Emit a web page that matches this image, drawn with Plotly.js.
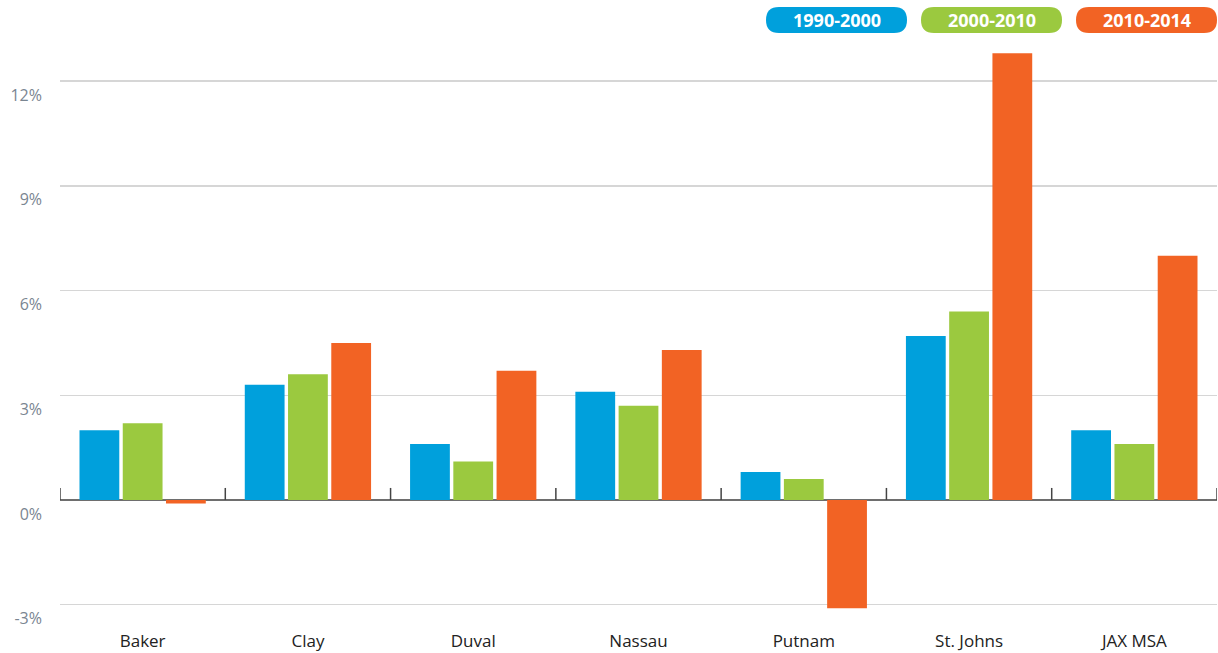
<!DOCTYPE html>
<html>
<head>
<meta charset="utf-8">
<script src="https://cdn.plot.ly/plotly-3.0.1.min.js"></script>
<style>html,body{margin:0;padding:0;background:#fff}#chart{width:1218px;height:653px}</style>
</head>
<body>
<div id="chart"></div>
<script>
const categories = ["Baker", "Clay", "Duval", "Nassau", "Putnam", "St. Johns", "JAX MSA"];
const seriesNames = ["1990-2000", "2000-2010", "2010-2014"];
const growth1990_2000 = [2.0, 3.3, 1.6, 3.1, 0.8, 4.7, 2.0];
const growth2000_2010 = [2.2, 3.6, 1.1, 2.7, 0.6, 5.4, 1.6];
const growth2010_2014 = [-0.1, 4.5, 3.7, 4.3, -3.1, 12.8, 7.0];
const yTickVals = [-3, 0, 3, 6, 9, 12];
const yTickText = ["-3%", "0%", "3%", "6%", "9%", "12%"];
const colors = ["#00a0dc", "#9bc93f", "#f26324"];

const W = 1218, H = 653;
const margin = {l: 60, r: 1, t: 40, b: 33};
const yRange = [-3.44, 13.18];
const xRange = [-0.5, categories.length - 0.5];

const series = [growth1990_2000, growth2000_2010, growth2010_2014];
const traces = series.map((vals, i) => ({
  type: "bar", x: categories, y: vals, name: seriesNames[i],
  marker: {color: colors[i]}, showlegend: false, hoverinfo: "x+y"
}));

const shapes = [], annotations = [];
// category boundary ticks on the zero line
for (let i = 0; i <= categories.length; i++) {
  shapes.push({type: "line", xref: "x", yref: "y", ysizemode: "pixel", yanchor: 0,
    x0: i - 0.5, x1: i - 0.5, y0: 0, y1: 12, line: {color: "#444444", width: 1.5}, layer: "above"});
}

// legend pills (pixel sized, anchored at top-right of plot area)
const pillW = 141, pillH = 26, pillGap = 14, r = 13;
seriesNames.forEach((name, i) => {
  const x1 = -(2 - i) * (pillW + pillGap);
  const x0 = x1 - pillW;
  const y0 = 7, y1 = y0 + pillH;
  const path = `M ${x0 + r},${y0} L ${x1 - r},${y0} Q ${x1},${y0} ${x1},${y0 + r} L ${x1},${y1 - r} Q ${x1},${y1} ${x1 - r},${y1} L ${x0 + r},${y1} Q ${x0},${y1} ${x0},${y1 - r} L ${x0},${y0 + r} Q ${x0},${y0} ${x0 + r},${y0} Z`;
  shapes.push({type: "path", xref: "paper", yref: "paper", xsizemode: "pixel", ysizemode: "pixel",
    xanchor: 1, yanchor: 1, path: path, fillcolor: colors[i], line: {width: 0}});
  annotations.push({xref: "paper", yref: "paper", x: 1, y: 1, xshift: (x0 + x1) / 2, yshift: (y0 + y1) / 2,
    text: "<b>" + name + "</b>", showarrow: false, xanchor: "center", yanchor: "middle",
    font: {family: "Open Sans, sans-serif", size: 18, color: "#ffffff"}});
});

const layout = {
  width: W, height: H, margin: margin,
  paper_bgcolor: "#ffffff", plot_bgcolor: "#ffffff",
  barmode: "group", bargap: 0.215, bargroupgap: 0.08,
  font: {family: "Open Sans, sans-serif"},
  xaxis: {type: "category", range: xRange, showgrid: false, zeroline: false, showline: false, ticks: "",
    tickfont: {size: 17, color: "#222222"}, ticklabelstandoff: 9, fixedrange: true},
  yaxis: {range: yRange, tickvals: yTickVals, ticktext: yTickText, showgrid: true, gridcolor: "#d6d6d6", gridwidth: 1.5,
    zeroline: true, zerolinecolor: "#6e6e6e", zerolinewidth: 2.5, showline: false, ticks: "",
    tickfont: {size: 16, color: "#7a8591"}, ticklabelshift: 14, ticklabelstandoff: 17, fixedrange: true},
  shapes: shapes, annotations: annotations, showlegend: false
};

Plotly.newPlot("chart", traces, layout, {displayModeBar: false, staticPlot: true});
</script>
</body>
</html>
